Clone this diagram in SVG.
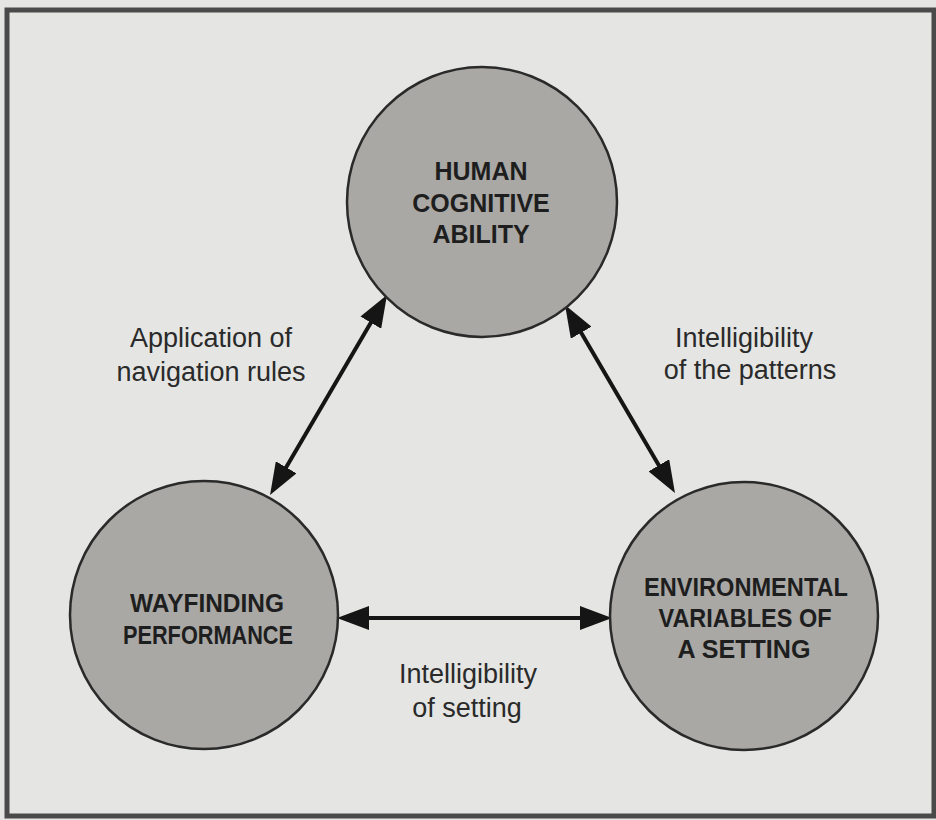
<svg xmlns="http://www.w3.org/2000/svg" width="936" height="820" viewBox="0 0 936 820">
  <style>
    .node circle { fill: #a9a8a5; stroke: #2a2a2a; stroke-width: 2.5; }
    .node text { font-family: "Liberation Sans", Arial, sans-serif; font-weight: bold; font-size: 25px; fill: #1e1e1e; text-anchor: middle; }
    .label { font-family: "Liberation Sans", Arial, sans-serif; font-size: 27px; fill: #2a2a2a; text-anchor: middle; }
    .conn { stroke: #151515; stroke-width: 4; fill: none; marker-start: url(#ah); marker-end: url(#ah); }
  </style>
  <defs>
    <marker id="ah" markerUnits="userSpaceOnUse" viewBox="0 0 32 24" markerWidth="32" markerHeight="24" refX="20" refY="12" orient="auto-start-reverse">
      <path d="M0,0 L32,12 L0,24 Z" fill="#151515"/>
    </marker>
  </defs>
  <rect x="0" y="0" width="936" height="820" fill="#e5e5e3"/>
  <rect x="7" y="10" width="927" height="806" fill="#e5e5e3" stroke="#4a4a4a" stroke-width="5"/>

  <g id="connectors">
    <path class="conn" d="M276.1,484.6 L380.9,305.4"/>
    <path class="conn" d="M571.1,315.4 L668.9,482.6"/>
    <path class="conn" d="M349,618 L600,618"/>
  </g>

  <g id="node-human" class="node">
    <circle cx="482" cy="202" r="135"/>
    <text x="481" y="180">HUMAN</text>
    <text x="481" y="212">COGNITIVE</text>
    <text x="481" y="243">ABILITY</text>
  </g>

  <g id="node-wayfinding" class="node">
    <circle cx="204" cy="615" r="134"/>
    <text x="207" y="612" font-size="24" textLength="154" lengthAdjust="spacingAndGlyphs">WAYFINDING</text>
    <text x="208" y="644" font-size="24" textLength="170" lengthAdjust="spacingAndGlyphs">PERFORMANCE</text>
  </g>

  <g id="node-environment" class="node">
    <circle cx="744" cy="616" r="134"/>
    <text x="746" y="596" font-size="24" textLength="204" lengthAdjust="spacingAndGlyphs">ENVIRONMENTAL</text>
    <text x="745" y="627" font-size="24" textLength="173" lengthAdjust="spacingAndGlyphs">VARIABLES OF</text>
    <text x="744" y="658" font-size="24" textLength="133" lengthAdjust="spacingAndGlyphs">A SETTING</text>
  </g>

  <g id="labels">
    <text class="label" x="211" y="347">Application of</text>
    <text class="label" x="211" y="381">navigation rules</text>
    <text class="label" x="744" y="347">Intelligibility</text>
    <text class="label" x="750" y="379">of the patterns</text>
    <text class="label" x="468" y="683">Intelligibility</text>
    <text class="label" x="467" y="717">of setting</text>
  </g>
</svg>
